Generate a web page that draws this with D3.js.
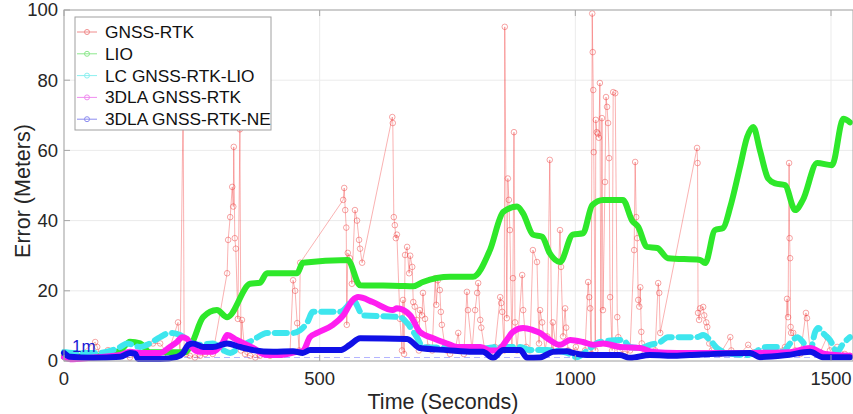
<!DOCTYPE html>
<html><head><meta charset="utf-8">
<script src="https://cdn.jsdelivr.net/npm/d3@7"></script>
<style>body{margin:0;background:#fff}svg{display:block}text{font-family:"Liberation Sans",Arial,sans-serif}</style>
</head><body><svg id="c" width="853" height="414"></svg>
<script>
const xTicks=[0,500,1000,1500];
const yTicks=[0,20,40,60,80,100];
const seriesNames=["GNSS-RTK","LIO","LC GNSS-RTK-LIO","3DLA GNSS-RTK","3DLA GNSS-RTK-NE"];
const gnssRtk=[[0,1.5],[31,2],[61,5.4],[65,4],[70,2],[86,3.1],[110,1.5],[129,1],[149,1.5],[174,5],[188,5],[203,2],[223,11],[227,2],[233,75],[235,3],[239,2],[246,1.5],[256,1],[266,1.5],[276,2],[291,2],[319,25],[321,34.5],[325,41],[329,49.6],[331,44],[332,61],[334,35],[336,32],[340,12],[344,66],[346,3],[348,11.7],[354,2],[364,1.5],[374,1],[383,1.5],[393,2],[403,1.5],[422,2],[442,2.5],[448,23],[452,20],[456,10.8],[460,3],[462,28],[546,45.9],[548,49.3],[550,43],[552,38],[553,10.3],[555,30.8],[559,29.3],[563,22],[569,43],[573,40],[577,34.5],[579,32],[583,28],[642,69.5],[643,67.8],[645,41],[647,38.7],[649,35],[651,36],[657,12],[661,3],[663,17.4],[665,2],[667,30.2],[671,32.5],[675,25],[677,30],[681,26.8],[683,16.8],[686,15.5],[690,11.7],[694,3],[696,14.5],[700,13],[702,19.4],[706,12],[712,4],[720,3],[726,23.6],[728,16],[731,23],[735,20.2],[737,14],[739,10.3],[745,4],[749,3],[755,2],[765,3],[771,8],[774,3.5],[782,2],[788,19.7],[790,14.5],[798,3],[804,14.5],[808,19.4],[810,22.2],[814,11.7],[816,9.5],[823,3],[833,2.5],[843,4],[853,18.2],[855,16.5],[857,14],[861,3],[862,95.2],[866,12.2],[868,52],[870,45.9],[872,37.3],[876,4],[878,23.6],[880,65.2],[882,11],[886,3],[896,24.5],[898,14.5],[904,4],[911,3],[917,31.6],[925,28.2],[929,5],[931,14.5],[935,11],[941,3],[945,7],[950,57.3],[954,3],[956,11],[962,4],[970,37.3],[972,26.8],[976,7],[980,15],[982,9.5],[986,3],[994,2.5],[1001,4],[1009,2],[1019,3],[1025,22.5],[1027,18.2],[1029,15],[1031,2],[1033,99],[1034,88],[1035,77.2],[1036,59.5],[1039,3],[1040,68.7],[1042,65.2],[1044,64.8],[1046,63.6],[1048,79.2],[1050,5],[1052,69.2],[1054,14.5],[1058,51],[1060,75.2],[1062,72.4],[1064,67.8],[1066,57.8],[1068,18.2],[1072,3],[1074,76.6],[1078,76.3],[1082,12.5],[1084,6.8],[1087,3],[1097,2],[1107,3],[1115,31.6],[1117,56.7],[1119,41],[1121,35],[1123,17.4],[1125,15.5],[1127,21],[1129,8.3],[1130,5],[1136,2.5],[1146,2],[1156,3],[1162,22.2],[1164,19.4],[1166,8],[1238,60.7],[1239,56.4],[1240,13.7],[1242,11.7],[1244,15],[1250,15.4],[1252,13],[1256,11],[1258,9.7],[1262,5],[1267,3],[1283,2],[1303,6.8],[1305,3],[1322,2],[1338,4.6],[1351,2.5],[1371,2],[1391,3],[1410,4],[1414,17.7],[1416,12.5],[1418,56.4],[1419,35],[1420,29.3],[1421,9.7],[1422,8],[1426,8],[1430,3],[1440,2],[1451,13.7],[1453,12.2],[1459,3],[1479,2.5],[1492,6.8],[1498,3],[1512,4],[1527,2],[1537,1.5]];
const lio=[[0,1.2],[70,1.5],[110,3],[129,5.5],[149,5],[168,2.5],[237,2.5],[250,5],[272,12.5],[299,14.5],[319,12.5],[364,22],[383,22.3],[397,25],[456,25],[467,28],[555,28.8],[579,21.6],[657,21.4],[683,21.3],[702,22.5],[755,24],[800,24],[833,31.6],[859,42.5],[886,44],[898,42],[917,36],[935,35.4],[950,30.7],[970,28.2],[995,36],[1015,36.4],[1033,44.4],[1054,45.9],[1093,45.9],[1111,40],[1123,38.2],[1140,32.5],[1160,32.2],[1181,29.3],[1244,28.8],[1254,27.9],[1273,37.3],[1289,37.9],[1303,43.9],[1322,55.3],[1336,63.8],[1348,66.7],[1361,60],[1377,52],[1391,50.6],[1410,50.1],[1430,43],[1445,45.9],[1473,56.4],[1502,55.8],[1524,69],[1537,68]];
const lcGnssRtkLio=[[0,2.6],[18,2.3],[70,2.3],[110,4],[123,5],[149,4],[162,4.6],[188,6.8],[207,8],[227,7.4],[246,5.4],[260,4.6],[291,5],[311,3.1],[325,2.3],[344,4],[370,6],[397,8],[448,8],[462,8.8],[475,10.8],[487,14],[540,14],[553,15.4],[565,17.4],[585,13],[657,12.5],[671,10.8],[690,6.8],[702,4],[749,3.7],[800,3.1],[847,4],[892,4],[911,3.1],[945,3.1],[984,2.3],[1003,1.1],[1029,3.7],[1048,5.4],[1093,6],[1107,4],[1127,3.7],[1146,4.6],[1166,5.4],[1181,6.8],[1238,6.8],[1250,7.4],[1263,6],[1277,3.7],[1297,2.3],[1336,1.7],[1375,4],[1394,4],[1406,2.6],[1420,5],[1434,6.8],[1445,5.4],[1459,2.6],[1469,8.3],[1475,9.4],[1484,8],[1498,6],[1512,2.6],[1524,5],[1537,6.8]];
const dlaGnssRtk=[[0,1.1],[12,0.5],[57,1],[110,1.7],[129,2.6],[149,2.3],[188,2.3],[207,4],[221,5.4],[231,6.8],[241,6.3],[250,4],[266,2.6],[291,2.6],[311,5.4],[319,7.4],[338,6],[370,3.7],[397,1.7],[422,1.7],[456,2.6],[467,2.8],[481,6.8],[495,8],[526,10.3],[546,13],[565,17.4],[575,18.2],[604,16.8],[643,14.5],[651,15],[677,13],[696,8.3],[722,6.5],[749,5],[769,4],[814,4],[833,3],[847,3],[866,6],[878,8.3],[898,9.4],[917,8.8],[931,8],[945,6.5],[970,4.6],[990,6],[1015,5.4],[1035,4.6],[1054,5],[1087,4],[1127,3.7],[1152,2.6],[1199,2.3],[1263,2.3],[1342,2.3],[1420,2.5],[1459,3.7],[1488,2],[1537,1.5]];
const dlaGnssRtkNe=[[0,2.3],[12,1.2],[57,0.9],[110,1.2],[129,2.3],[139,2.1],[145,0.6],[188,0.6],[221,1.2],[233,2.3],[243,4.6],[252,5],[272,4],[291,4],[319,5],[344,4],[370,3.1],[409,2.6],[448,2.8],[467,2.3],[481,3.1],[540,3.1],[559,4.6],[579,6.5],[671,6.3],[696,3.7],[749,3.1],[800,2.6],[819,2.6],[839,0.9],[859,3.1],[892,3.1],[906,0.9],[931,1],[956,2.6],[984,2.8],[995,2.3],[1023,1.7],[1087,1.7],[1107,0.9],[1146,1.7],[1199,1.5],[1224,1.7],[1342,2.3],[1361,1.1],[1414,1.7],[1459,2.6],[1484,1.1],[1537,1.1]];
const xDomain=[0,1543], yDomain=[0,100];
const refLevel=1;

const svg=d3.select("#c");
const L=64,R=853,T=10,B=361;
const x=d3.scaleLinear().domain(xDomain).range([L,R]);
const y=d3.scaleLinear().domain(yDomain).range([B,T]);

svg.append("g").selectAll("line").data(yTicks).join("line")
  .attr("x1",L).attr("x2",R).attr("y1",d=>y(d)).attr("y2",d=>y(d)).attr("stroke","#ebebeb").attr("stroke-width",1);
svg.append("g").selectAll("line").data(xTicks).join("line")
  .attr("y1",T).attr("y2",B).attr("x1",d=>x(d)).attr("x2",d=>x(d)).attr("stroke","#ebebeb").attr("stroke-width",1);

const line=d3.line().x(d=>x(d[0])).y(d=>y(d[1]));
const plot=svg.append("g");
plot.append("line").attr("x1",L).attr("x2",R).attr("y1",y(refLevel)).attr("y2",y(refLevel))
  .attr("stroke","#b4b4ff").attr("stroke-width",1.2).attr("stroke-dasharray","6,4");
plot.append("path").datum(gnssRtk).attr("d",line).attr("fill","none").attr("stroke","rgba(240,40,40,0.45)").attr("stroke-width",0.8);
plot.append("g").selectAll("circle").data(gnssRtk).join("circle")
  .attr("cx",d=>x(d[0])).attr("cy",d=>y(d[1])).attr("r",2.8).attr("fill","none").attr("stroke","rgba(235,50,50,0.55)").attr("stroke-width",0.8);
const curve=d3.line().x(d=>x(d[0])).y(d=>y(d[1])).curve(d3.curveMonotoneX);
function thick(data,color,w,dash){
  const p=plot.append("path").datum(data).attr("d",curve).attr("fill","none").attr("stroke",color)
   .attr("stroke-width",w).attr("stroke-linejoin","round").attr("stroke-linecap","round");
  if(dash)p.attr("stroke-dasharray",dash);
  return p;
}
thick(lio,"#2ee82a",6);
thick(lcGnssRtkLio,"#7ff4f4",1);
thick(lcGnssRtkLio,"#3ee6ee",6,"12,7");
thick(dlaGnssRtk,"#ff1ef0",6);
thick(dlaGnssRtkNe,"#1010e6",6);

svg.append("text").attr("x",72).attr("y",352).attr("fill","#1a1ad6").attr("font-size",17).text("1m");

svg.append("rect").attr("x",L).attr("y",T).attr("width",R-L).attr("height",B-T).attr("fill","none").attr("stroke","#a6a6a6").attr("stroke-width",1);
const tl=6;
svg.append("g").selectAll("line").data(yTicks).join("line").attr("x1",L).attr("x2",L+tl).attr("y1",d=>y(d)).attr("y2",d=>y(d)).attr("stroke","#a6a6a6");
svg.append("g").selectAll("line").data(xTicks).join("line").attr("y1",B).attr("y2",B-tl).attr("x1",d=>x(d)).attr("x2",d=>x(d)).attr("stroke","#a6a6a6");
svg.append("g").selectAll("line").data(xTicks).join("line").attr("y1",T).attr("y2",T+tl).attr("x1",d=>x(d)).attr("x2",d=>x(d)).attr("stroke","#a6a6a6");
svg.append("g").selectAll("text").data(yTicks).join("text").attr("x",L-6).attr("y",d=>y(d)).attr("dy","0.35em")
  .attr("text-anchor","end").attr("font-size",18.5).attr("fill","#262626").text(d=>d);
svg.append("g").selectAll("text").data(xTicks).join("text").attr("x",d=>x(d)).attr("y",B+18).attr("dy","0.35em")
  .attr("text-anchor","middle").attr("font-size",18.5).attr("fill","#262626").text(d=>d);
svg.append("text").attr("x",443).attr("y",401).attr("dy","0.35em").attr("text-anchor","middle").attr("font-size",21.5).attr("fill","#262626").text("Time (Seconds)");
svg.append("text").attr("transform","translate(22,191) rotate(-90)").attr("dy","0.35em").attr("text-anchor","middle").attr("font-size",21.5).attr("fill","#262626").text("Error (Meters)");

const legColors=["#f08c8c","#8ce88c","#8cf0f0","#f08cf0","#8c8cf0"];
const lg=svg.append("g");
lg.append("rect").attr("x",75).attr("y",17).attr("width",196).attr("height",113).attr("fill","#fff").attr("stroke","#a0a0a0").attr("stroke-width",1);
const it=lg.selectAll("g").data(seriesNames).join("g").attr("transform",(d,i)=>`translate(0,${32+i*21.8})`);
it.append("line").attr("x1",77).attr("x2",97).attr("stroke",(d,i)=>legColors[i]).attr("stroke-width",1);
it.append("circle").attr("cx",87).attr("r",2.5).attr("fill","none").attr("stroke",(d,i)=>legColors[i]).attr("stroke-width",1);
it.append("text").attr("x",105).attr("dy","0.35em").attr("font-size",17.3).attr("fill","#111").text(d=>d);
</script></body></html>
